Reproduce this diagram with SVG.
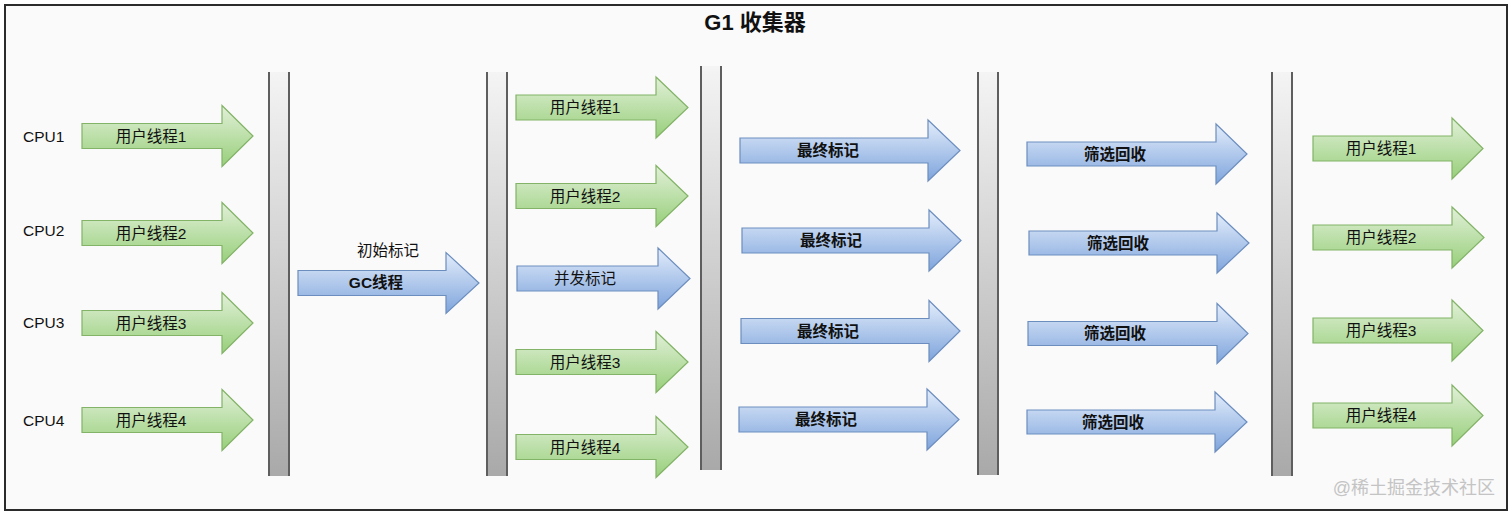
<svg xmlns="http://www.w3.org/2000/svg" width="1512" height="515" viewBox="0 0 1512 515">
<defs>
<linearGradient id="gg" x1="0" y1="0" x2="0" y2="1"><stop offset="0" stop-color="#e2f0d9"/><stop offset="1" stop-color="#97cf7a"/></linearGradient>
<linearGradient id="bg" x1="0" y1="0" x2="0" y2="1"><stop offset="0" stop-color="#e3edfb"/><stop offset="1" stop-color="#7ea4dc"/></linearGradient>
<linearGradient id="barg" x1="0" y1="0" x2="0" y2="1"><stop offset="0" stop-color="#f4f4f4"/><stop offset="1" stop-color="#a9a9a9"/></linearGradient>
<style>
text{font-family:"Liberation Sans","Noto Sans CJK SC",sans-serif;fill:#111;}
.lbl{font-size:15.5px;text-anchor:middle;}
.bold{font-weight:bold;}
.cpu{font-size:15.5px;}
.g{fill:url(#gg);stroke:#82b366;stroke-width:1.2;}
.b{fill:url(#bg);stroke:#6c8ebf;stroke-width:1.2;}
.bar{fill:url(#barg);}
.barl{stroke:#5e5e5e;stroke-width:2;}
</style>
</defs>
<rect x="0" y="0" width="1512" height="515" fill="#ffffff"/>
<rect x="5" y="5" width="1502" height="505" fill="#fafafa" stroke="#2b2b2b" stroke-width="2"/>
<text x="755" y="30" font-size="22" font-weight="bold" text-anchor="middle">G1 收集器</text>

<g id="bars">
<g id="bar1"><rect class="bar" x="268" y="72" width="22" height="404"/><line class="barl" x1="269" y1="72" x2="269" y2="476"/><line class="barl" x1="289" y1="72" x2="289" y2="476"/></g>
<g id="bar2"><rect class="bar" x="486" y="72" width="22" height="404"/><line class="barl" x1="487" y1="72" x2="487" y2="476"/><line class="barl" x1="507" y1="72" x2="507" y2="476"/></g>
<g id="bar3"><rect class="bar" x="700" y="66" width="22" height="404"/><line class="barl" x1="701" y1="66" x2="701" y2="470"/><line class="barl" x1="721" y1="66" x2="721" y2="470"/></g>
<g id="bar4"><rect class="bar" x="977" y="72" width="22" height="403"/><line class="barl" x1="978" y1="72" x2="978" y2="475"/><line class="barl" x1="998" y1="72" x2="998" y2="475"/></g>
<g id="bar5"><rect class="bar" x="1271" y="72" width="22" height="404"/><line class="barl" x1="1272" y1="72" x2="1272" y2="476"/><line class="barl" x1="1292" y1="72" x2="1292" y2="476"/></g>
</g>

<g id="cpu-labels">
<text class="cpu" x="23" y="142">CPU1</text>
<text class="cpu" x="23" y="236">CPU2</text>
<text class="cpu" x="23" y="328">CPU3</text>
<text class="cpu" x="23" y="426">CPU4</text>
</g>

<g id="col1">
<g id="c1a1"><path class="g" d="M82,123.5 H222 V105.5 L253,136 L222,166.5 V148.5 H82 Z"/><text class="lbl" x="151" y="141.5">用户线程1</text></g>
<g id="c1a2"><path class="g" d="M82,220.5 H222 V202.5 L253,233 L222,263.5 V245.5 H82 Z"/><text class="lbl" x="151" y="238.5">用户线程2</text></g>
<g id="c1a3"><path class="g" d="M82,310.5 H222 V292.5 L253,323 L222,353.5 V335.5 H82 Z"/><text class="lbl" x="151" y="328.5">用户线程3</text></g>
<g id="c1a4"><path class="g" d="M82,407.5 H222 V389.5 L253,420 L222,450.5 V432.5 H82 Z"/><text class="lbl" x="151" y="425.5">用户线程4</text></g>
</g>

<g id="gc">
<text class="lbl" x="388" y="256">初始标记</text>
<path class="b" d="M298,270.5 H446 V252.5 L479,283 L446,313.5 V295.5 H298 Z"/>
<text class="lbl bold" x="376" y="288">GC线程</text>
</g>

<g id="col2">
<g id="c2a1"><path class="g" d="M516,95 H656 V77 L688,107.5 L656,138 V120 H516 Z"/><text class="lbl" x="585" y="112.5">用户线程1</text></g>
<g id="c2a2"><path class="g" d="M516,183.5 H656 V165.5 L688,196 L656,226.5 V208.5 H516 Z"/><text class="lbl" x="585" y="201.5">用户线程2</text></g>
<g id="c2a3"><path class="b" d="M517,266 H658 V248 L690,278.5 L658,309 V291 H517 Z"/><text class="lbl" x="585" y="284">并发标记</text></g>
<g id="c2a4"><path class="g" d="M516,349.5 H656 V331.5 L688,362 L656,392.5 V374.5 H516 Z"/><text class="lbl" x="585" y="367.5">用户线程3</text></g>
<g id="c2a5"><path class="g" d="M516,434.5 H656 V416.5 L688,447 L656,477.5 V459.5 H516 Z"/><text class="lbl" x="585" y="452.5">用户线程4</text></g>
</g>

<g id="col3">
<g id="c3a1"><path class="b" d="M740,138 H928 V120 L960,150.5 L928,181 V163 H740 Z"/><text class="lbl bold" x="828" y="156">最终标记</text></g>
<g id="c3a2"><path class="b" d="M742,228 H929 V210 L961,240.5 L929,271 V253 H742 Z"/><text class="lbl bold" x="831" y="246">最终标记</text></g>
<g id="c3a3"><path class="b" d="M741,318.5 H929 V300.5 L960,331 L929,361.5 V343.5 H741 Z"/><text class="lbl bold" x="828" y="336.5">最终标记</text></g>
<g id="c3a4"><path class="b" d="M739,407 H927 V389 L959,419.5 L927,450 V432 H739 Z"/><text class="lbl bold" x="826" y="425">最终标记</text></g>
</g>

<g id="col4">
<g id="c4a1"><path class="b" d="M1027,142 H1216 V124 L1247,154 L1216,184 V166 H1027 Z"/><text class="lbl bold" x="1115" y="159.5">筛选回收</text></g>
<g id="c4a2"><path class="b" d="M1029,231 H1217 V213 L1249,243 L1217,273 V255 H1029 Z"/><text class="lbl bold" x="1118" y="248.5">筛选回收</text></g>
<g id="c4a3"><path class="b" d="M1028,321.5 H1217 V303.5 L1248,333.5 L1217,363.5 V345.5 H1028 Z"/><text class="lbl bold" x="1115" y="339">筛选回收</text></g>
<g id="c4a4"><path class="b" d="M1027,410 H1215 V392 L1247,422 L1215,452 V434 H1027 Z"/><text class="lbl bold" x="1113" y="427.5">筛选回收</text></g>
</g>

<g id="col5">
<g id="c5a1"><path class="g" d="M1313,136 H1452 V118 L1483,148.5 L1452,179 V161 H1313 Z"/><text class="lbl" x="1381" y="153.5">用户线程1</text></g>
<g id="c5a2"><path class="g" d="M1313,225 H1452 V207 L1484,237.5 L1452,268 V250 H1313 Z"/><text class="lbl" x="1381" y="242.5">用户线程2</text></g>
<g id="c5a3"><path class="g" d="M1313,318 H1452 V300 L1483,330.5 L1452,361 V343 H1313 Z"/><text class="lbl" x="1381" y="335.5">用户线程3</text></g>
<g id="c5a4"><path class="g" d="M1313,403 H1452 V385 L1483,415.5 L1452,446 V428 H1313 Z"/><text class="lbl" x="1381" y="420.5">用户线程4</text></g>
</g>

<text x="1495" y="494" font-size="18" text-anchor="end" style="fill:#c4c4c4">@稀土掘金技术社区</text>
</svg>
